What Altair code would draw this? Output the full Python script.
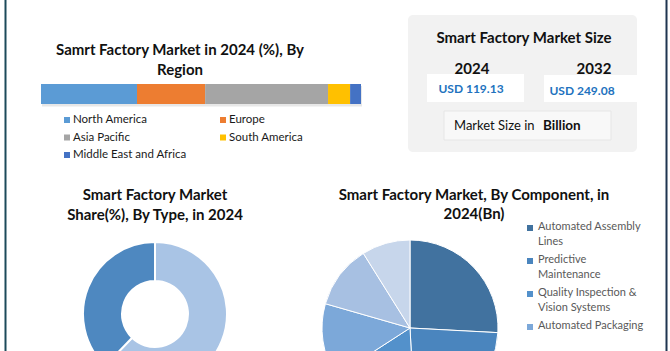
import altair as alt
import pandas as pd

# ---------------- data ----------------
region_names = ["North America", "Europe", "Asia Pacific", "South America", "Middle East and Africa"]
region_share = [30.0, 21.3, 38.4, 6.9, 3.4]
region_colors = ["#5B9BD5", "#ED7D31", "#A5A5A5", "#FFC000", "#4472C4"]

type_names = ["Discrete Industry", "Process Industry"]
type_share = [62.2, 37.8]
type_colors = ["#A9C4E5", "#4E88C0"]

component_names = ["Automated Assembly Lines", "Predictive Maintenance",
                   "Quality Inspection & Vision Systems", "Automated Packaging",
                   "Industrial Robotics", "Others"]
component_value = [30.8, 27.8, 19.9, 16.2, 13.9, 10.6]
component_colors = ["#41729F", "#4A85BE", "#5391CB", "#7CA8D9", "#A7C0E2", "#C7D6EB"]
component_legend = ["Automated Assembly\nLines", "Predictive\nMaintenance",
                    "Quality Inspection &\nVision Systems", "Automated Packaging"]

size_years = [2024, 2032]
size_values = [119.13, 249.08]

FONT = "Lato"
BOLD_SIZE = 15

# ---------------- tables ----------------
region_df = pd.DataFrame({"region": region_names, "share": region_share,
                          "idx": list(range(len(region_names)))})
region_df["col"] = region_df["idx"] % 2
region_df["row"] = region_df["idx"] // 2

type_df = pd.DataFrame({"type": type_names, "share": type_share,
                        "idx": list(range(len(type_names)))})

comp_df = pd.DataFrame({"component": component_names, "value": component_value,
                        "idx": list(range(len(component_names)))})

lines = [lbl.count("\n") + 1 for lbl in component_legend]
pos, acc = [], 0.0
for n in lines:
    pos.append(acc)
    acc += n + 0.2
leg_df = pd.DataFrame({"label": component_legend,
                       "component": component_names[:len(component_legend)],
                       "pos": pos})

size_df = pd.DataFrame({"year": size_years, "value": size_values})


def label(text, x, y, **kw):
    return alt.Chart(pd.DataFrame({"t": [text]})).mark_text(**kw).encode(
        x=alt.value(x), y=alt.value(y), text="t:N")


def box(x, x2, y, y2, **kw):
    return alt.Chart(pd.DataFrame({"a": [0]})).mark_rect(**kw).encode(
        x=alt.value(x), x2=alt.value(x2), y=alt.value(y), y2=alt.value(y2))


layers = []

# borders
layers.append(alt.Chart(pd.DataFrame({"a": [0]})).mark_rule(color="#1C4A5A", strokeWidth=2).encode(
    x=alt.value(5.5), y=alt.value(0), y2=alt.value(351)))
layers.append(alt.Chart(pd.DataFrame({"a": [0]})).mark_rule(color="#1F3550", strokeWidth=2).encode(
    x=alt.value(666.5), y=alt.value(0), y2=alt.value(351)))

# ---- region stacked bar ----
layers.append(label("Samrt Factory Market in 2024 (%), By\nRegion", 180, 50, font=FONT, fontSize=BOLD_SIZE,
                    fontWeight="bold", color="#111111", lineBreak="\n", lineHeight=20, baseline="middle"))
layers.append(box(42, 362, 86, 106.5, fill="#D0D0D0", opacity=0.5))
layers.append(alt.Chart(region_df).transform_stack(
    stack="share", groupby=[], as_=["x0", "x1"], sort=[alt.SortField("idx", order="ascending")]
).mark_rect().encode(
    x=alt.X("x0:Q", scale=alt.Scale(domain=[0, 100], range=[41, 361]), axis=None),
    x2="x1:Q",
    y=alt.value(84), y2=alt.value(104),
    color=alt.Color("region:N", scale=alt.Scale(domain=region_names, range=region_colors), legend=None),
))
reg_x = alt.X("col:Q", scale=alt.Scale(domain=[0, 1], range=[67, 223]), axis=None)
reg_y = alt.Y("row:Q", scale=alt.Scale(domain=[0, 2], range=[120, 155]), axis=None)
layers.append(alt.Chart(region_df).mark_square(size=36, opacity=1).encode(
    x=reg_x, y=reg_y,
    color=alt.Color("region:N", scale=alt.Scale(domain=region_names, range=region_colors), legend=None)))
layers.append(alt.Chart(region_df).mark_text(align="left", dx=6, font=FONT, fontSize=11.5,
                                             color="#1A1A1A").encode(
    x=alt.X("col:Q", scale=alt.Scale(domain=[0, 1], range=[67, 223]), axis=None),
    y=alt.Y("row:Q", scale=alt.Scale(domain=[0, 2], range=[120, 155]), axis=None),
    text="region:N"))

# ---- market size box ----
layers.append(box(408, 637, 15, 152, fill="#F2F2F2", cornerRadius=5))
layers.append(label("Smart Factory Market Size", 524, 38, font=FONT, fontSize=BOLD_SIZE, fontWeight="bold",
                    color="#111111", baseline="middle"))
layers.append(box(427, 524, 74, 102, fill="#FFFFFF"))
layers.append(box(544, 638, 75, 102, fill="#FFFFFF"))
layers.append(alt.Chart(size_df).mark_text(font=FONT, fontSize=15, fontWeight="bold", color="#111111",
                                           baseline="middle").encode(
    x=alt.X("year:Q", scale=alt.Scale(domain=size_years, range=[472, 594]), axis=None),
    y=alt.value(69),
    text=alt.Text("year:Q", format="d")))
layers.append(alt.Chart(size_df).transform_calculate(
    lbl="'USD ' + format(datum.value, '.2f')").mark_text(
    font=FONT, fontSize=12, fontWeight="bold", color="#2272BE", baseline="middle").encode(
    x=alt.X("year:Q", scale=alt.Scale(domain=size_years, range=[471, 582]), axis=None),
    y=alt.Y("year:Q", scale=alt.Scale(domain=size_years, range=[89, 91]), axis=None),
    text="lbl:N"))
layers.append(box(444, 611, 111, 140, fill="#F8F8F8", stroke="#E6E6E6", strokeWidth=1))
layers.append(label("Market Size in", 454, 126, font=FONT, fontSize=13, color="#111111",
                    align="left", baseline="middle"))
layers.append(label("Billion", 543, 126, font=FONT, fontSize=13.5, fontWeight="bold", color="#111111",
                    align="left", baseline="middle"))

# ---- donut by type ----
layers.append(label("Smart Factory Market\nShare(%), By Type, in 2024", 155, 195, font=FONT,
                    fontSize=BOLD_SIZE, fontWeight="bold", color="#111111", lineBreak="\n",
                    lineHeight=20, baseline="middle"))
layers.append(alt.Chart(type_df).mark_arc(innerRadius=33, outerRadius=72, stroke="white",
                                          strokeWidth=2).encode(
    theta=alt.Theta("share:Q", stack=True),
    order=alt.Order("idx:Q"),
    color=alt.Color("type:N", scale=alt.Scale(domain=type_names, range=type_colors), legend=None),
    x=alt.value(155), y=alt.value(314)))

# ---- pie by component ----
layers.append(label("Smart Factory Market, By Component, in\n2024(Bn)", 474, 195, font=FONT,
                    fontSize=BOLD_SIZE, fontWeight="bold", color="#111111", lineBreak="\n",
                    lineHeight=19, baseline="middle"))
layers.append(alt.Chart(comp_df).mark_arc(outerRadius=88, stroke="white", strokeWidth=1).encode(
    theta=alt.Theta("value:Q", stack=True),
    order=alt.Order("idx:Q"),
    color=alt.Color("component:N", scale=alt.Scale(domain=component_names, range=component_colors),
                    legend=None),
    x=alt.value(410), y=alt.value(328)))
layers.append(alt.Chart(leg_df).mark_square(size=36, opacity=1).encode(
    x=alt.value(530),
    y=alt.Y("pos:Q", scale=alt.Scale(domain=[0, 1], range=[228, 243]), axis=None),
    color=alt.Color("component:N", scale=alt.Scale(domain=component_names, range=component_colors),
                    legend=None)))
layers.append(alt.Chart(leg_df).mark_text(align="left", baseline="top", dy=-7, font=FONT, fontSize=11,
                                          color="#595959", lineBreak="\n", lineHeight=15).encode(
    x=alt.value(538),
    y=alt.Y("pos:Q", scale=alt.Scale(domain=[0, 1], range=[228, 243]), axis=None),
    text="label:N"))

chart = alt.layer(*layers).resolve_scale(
    x="independent", y="independent", color="independent", theta="independent"
).properties(
    width=670, height=351, padding=0, autosize="none", background="white"
).configure_view(strokeWidth=0)

chart.save("out.html", embed_options={"renderer": "svg", "actions": False})
